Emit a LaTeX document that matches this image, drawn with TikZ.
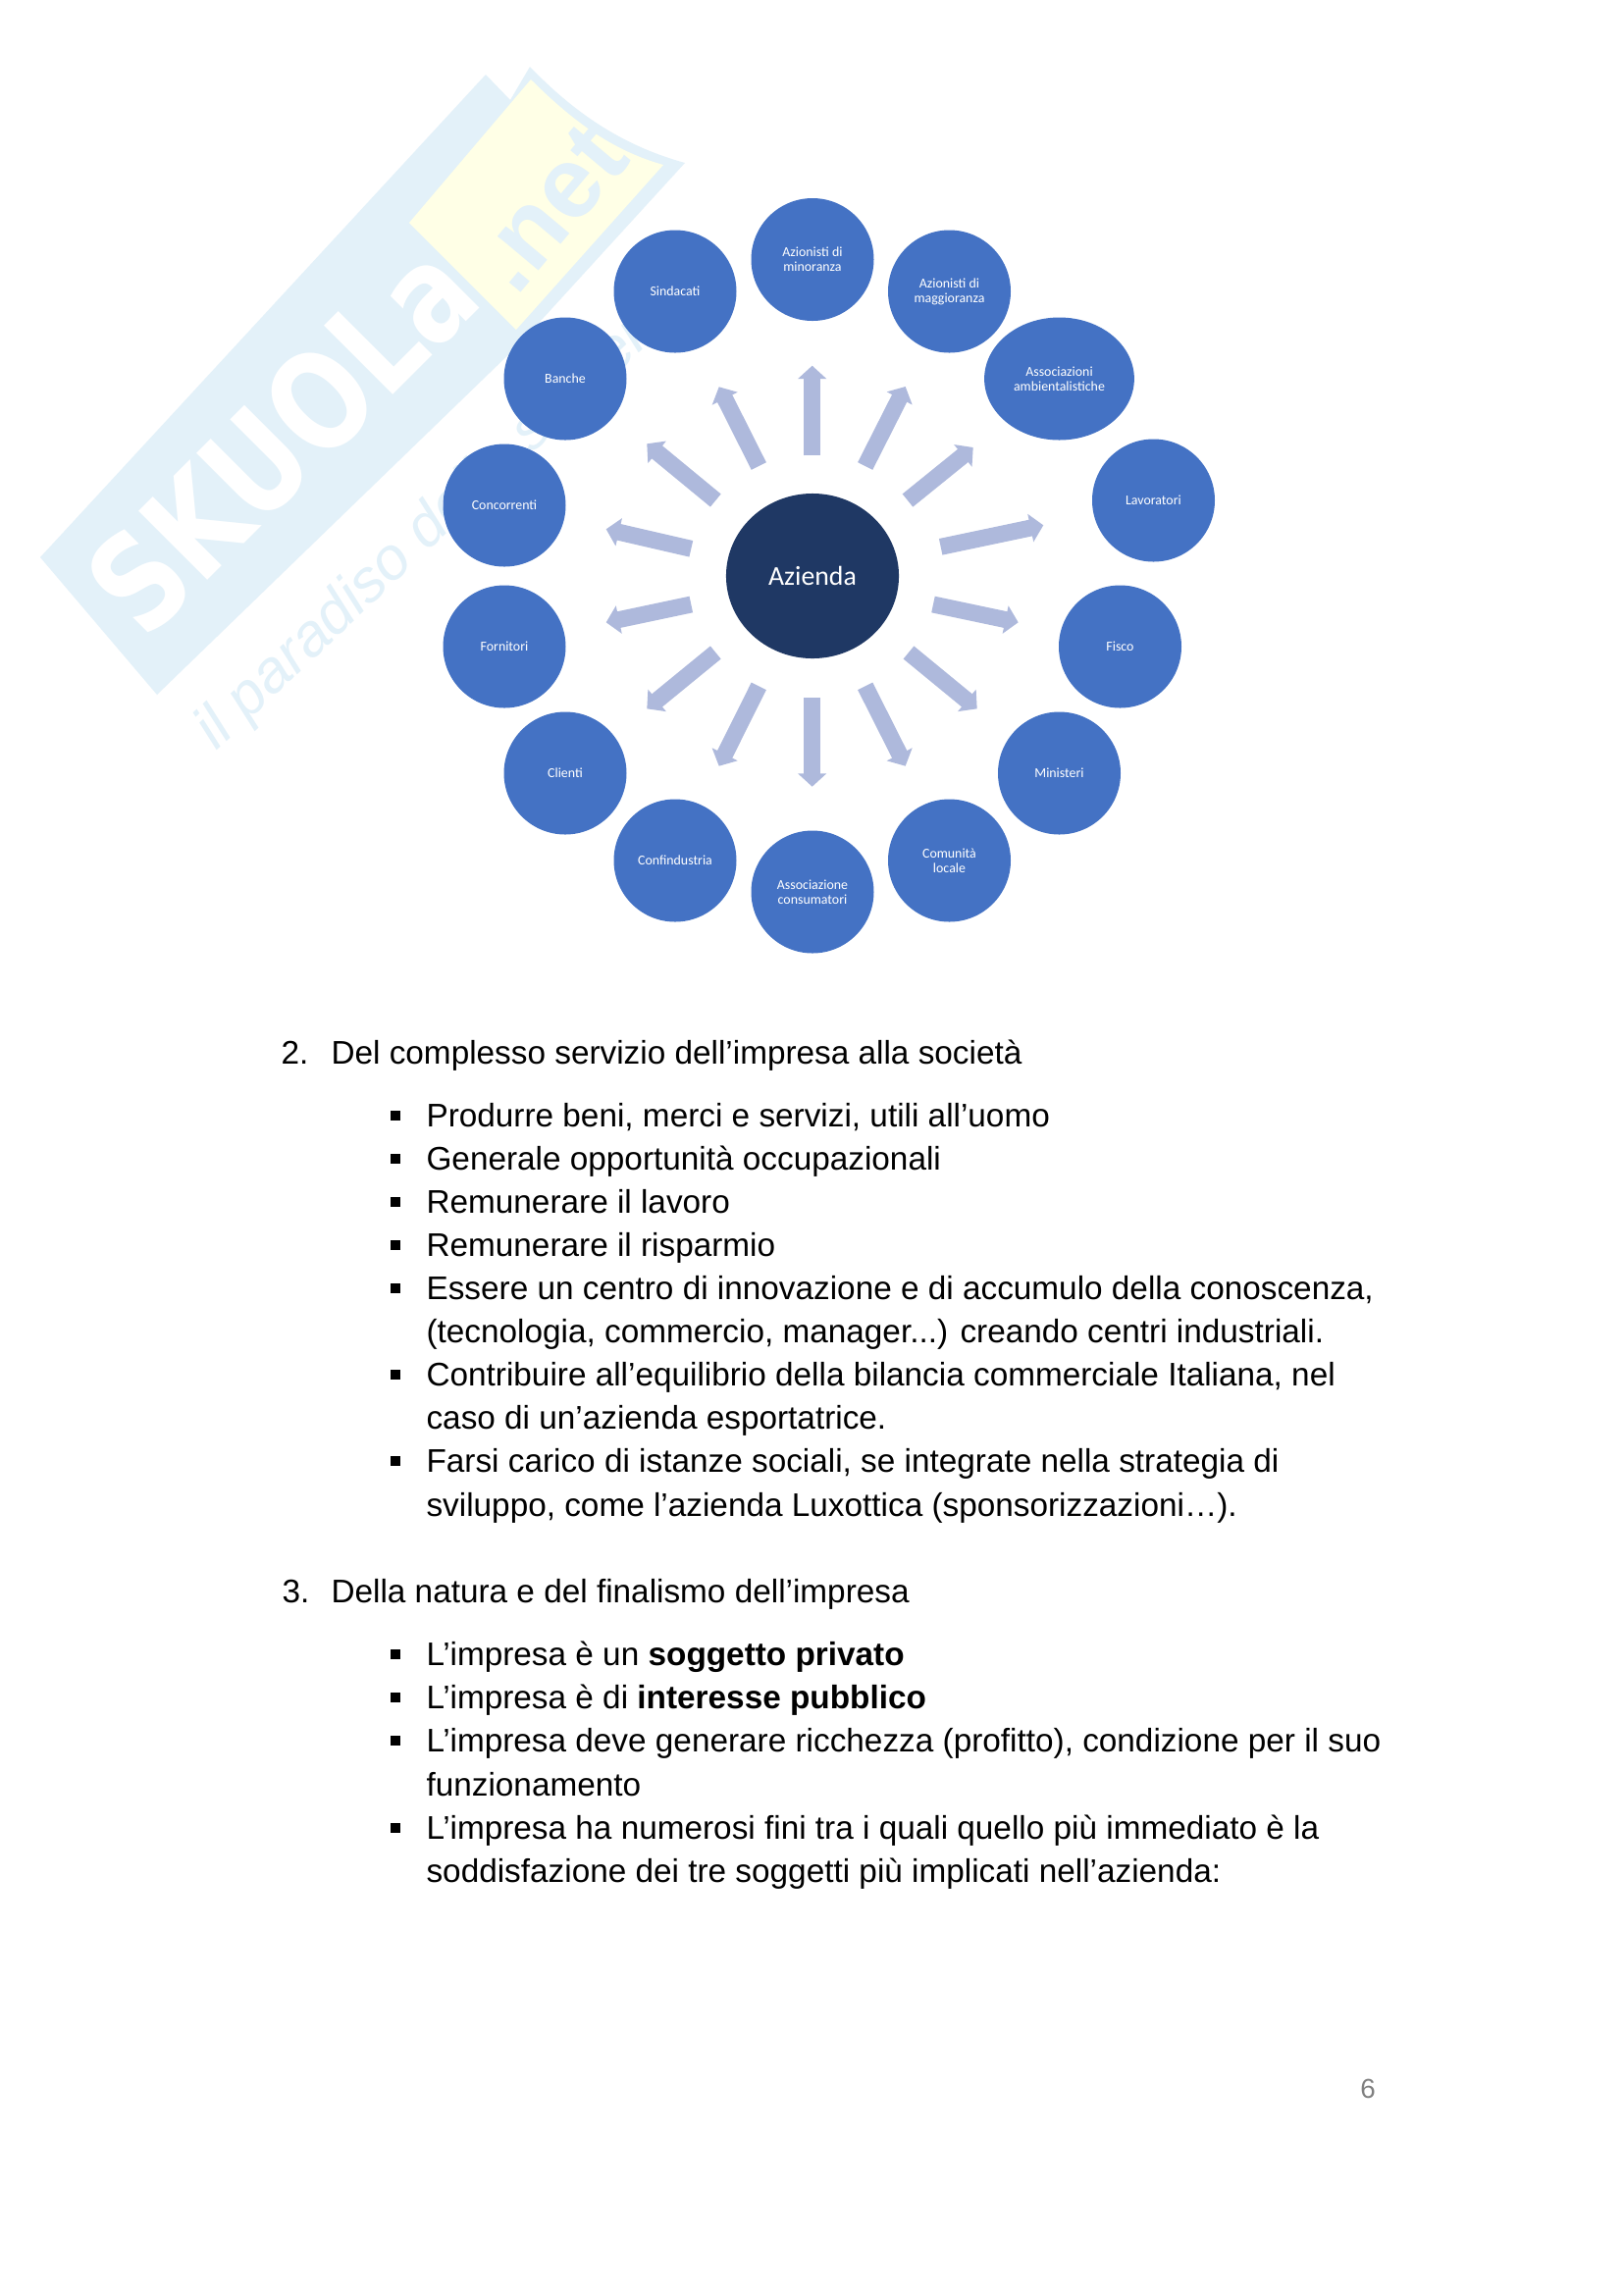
\documentclass[tikz,border=0pt]{standalone}
\usepackage{graphicx}
\usepackage{fontspec}
\setmainfont{Liberation Sans}
\newfontfamily\calibri{Carlito}
\newfontfamily\wmfont{DejaVu Sans}
\usetikzlibrary{arrows.meta,shapes.geometric}
\definecolor{wmblue}{HTML}{E3F1F9}
\definecolor{wmyellow}{HTML}{FFFFE6}
\definecolor{ringblue}{HTML}{4472C4}
\definecolor{hubblue}{HTML}{1F3864}
\definecolor{arrowblue}{HTML}{AEB9DC}
\tikzset{
  ring/.style={circle,fill=ringblue,text=white,minimum size=45pt,inner sep=0pt,align=center,
    font=\calibri\fontsize{5}{5.4}\selectfont},
  ringwide/.style={ellipse,fill=ringblue,text=white,minimum width=55pt,minimum height=45pt,inner sep=0pt,align=center,
    font=\calibri\fontsize{5}{5.4}\selectfont},
  hub/.style={ellipse,fill=hubblue,text=white,minimum width=63.4pt,minimum height=60.5pt,inner sep=0pt,
    font=\calibri\fontsize{10}{12}\selectfont},
  spoke/.style={draw=arrowblue,line width=6.1pt,-{Triangle[length=4.8pt,width=10.2pt,fill=arrowblue]}},
  body/.style={anchor=base west,inner sep=0pt,font=\fontsize{12}{14}\selectfont,text=black},
  sq/.style={fill=black,minimum size=3.3pt,inner sep=0pt,anchor=center},
}
\begin{document}
\begin{tikzpicture}[x=0.36pt,y=-0.36pt]
\useasboundingbox (0,0) rectangle (1654,2339);
\fill[white] (0,0) rectangle (1654,2339);
% watermark
\fill[wmblue] (41,568) -- (495,76) -- (520,102) -- (540,68) .. controls (590,120) and (640,150) .. (698,166) -- (530,350) -- (160,708) -- cycle;
\fill[wmyellow] (417,227) -- (541,81) .. controls (590,130) and (630,155) .. (676,168) -- (526,336) -- cycle;
\node[rotate=45,text=white,inner sep=0pt,font=\wmfont\bfseries\fontsize{49}{49}\selectfont] (wmname) at (287,446) {\scalebox{0.81}[1]{SKUOLa}};
\node[rotate=50,text=wmblue,inner sep=0pt,font=\bfseries\fontsize{37}{37}\selectfont] (wmnet) at (560,212) {.net};
\node[rotate=43.3,text=wmblue,inner sep=0pt,font=\itshape\fontsize{22}{22}\selectfont] (wmtag) at (456,522) {il paradiso dello studente};
% hub and ring
\node[hub] (hub) at (828,587) {Azienda};
\node[ring] (n1) at (828,264.5) {Azionisti di\\minoranza};
\node[ring] (n2) at (967.5,297) {Azionisti di\\maggioranza};
\node[ringwide] (n3) at (1079.5,386) {Associazioni\\ambientalistiche};
\node[ring] (n4) at (1175.5,510) {Lavoratori};
\node[ring] (n5) at (1141.5,659) {Fisco};
\node[ring] (n6) at (1079.5,788) {Ministeri};
\node[ring] (n7) at (967.5,877) {Comunità\\locale};
\node[ring] (n8) at (828,909) {Associazione\\consumatori};
\node[ring] (n9) at (688,877) {Confindustria};
\node[ring] (n10) at (576,788) {Clienti};
\node[ring] (n11) at (514,659) {Fornitori};
\node[ring] (n12) at (514,515) {Concorrenti};
\node[ring] (n13) at (576,386) {Banche};
\node[ring] (n14) at (688,297) {Sindacati};
% spokes
\coordinate (b1) at (827.7,464.3); \coordinate (t1) at (827.7,372.7);
\coordinate (b2) at (881.7,475); \coordinate (t2) at (922.7,394);
\coordinate (b3) at (925,510); \coordinate (t3) at (991.7,456);
\coordinate (b4) at (958.7,557.3); \coordinate (t4) at (1063.3,535.3);
\coordinate (b5) at (951,616); \coordinate (t5) at (1037.7,634.3);
\coordinate (b6) at (926,665); \coordinate (t6) at (995.7,722.3);
\coordinate (b7) at (881.7,699.3); \coordinate (t7) at (922.7,780.7);
\coordinate (b8) at (827.7,711); \coordinate (t8) at (827.7,801.7);
\coordinate (b9) at (773.3,699.3); \coordinate (t9) at (732.7,780.7);
\coordinate (b10) at (729.3,665); \coordinate (t10) at (659.3,722.3);
\coordinate (b11) at (704.3,616); \coordinate (t11) at (617.7,634.3);
\coordinate (b12) at (704.3,559.3); \coordinate (t12) at (617.7,539.3);
\coordinate (b13) at (729.3,510); \coordinate (t13) at (659.3,452.3);
\coordinate (b14) at (773.3,475); \coordinate (t14) at (732.7,394.3);
\foreach \i in {1,...,14} {\draw[spoke] (b\i) -- (t\i);}
% text
\node[body] (h2n) at (286,1084) {2.};
\node[body] (h2) at (337,1084) {Del complesso servizio dell’impresa alla società};
\node[body] (l1) at (434,1148) {Produrre beni, merci e servizi, utili all’uomo};
\node[body] (l2) at (434,1192) {Generale opportunità occupazionali};
\node[body] (l3) at (434,1236) {Remunerare il lavoro};
\node[body] (l4) at (434,1280) {Remunerare il risparmio};
\node[body] (l5) at (434,1324) {Essere un centro di innovazione e di accumulo della conoscenza,};
\node[body] (l5b) at (434,1368) {(tecnologia, commercio, manager...) creando centri industriali.};
\node[body] (l6) at (434,1412) {Contribuire all’equilibrio della bilancia commerciale Italiana, nel};
\node[body] (l6b) at (434,1456) {caso di un’azienda esportatrice.};
\node[body] (l7) at (434,1500) {Farsi carico di istanze sociali, se integrate nella strategia di};
\node[body] (l7b) at (434,1545) {sviluppo, come l’azienda Luxottica (sponsorizzazioni…).};
\node[body] (h3n) at (287,1633) {3.};
\node[body] (h3) at (337,1633) {Della natura e del finalismo dell’impresa};
\node[body] (m1) at (434,1697) {L’impresa è un \textbf{soggetto privato}};
\node[body] (m2) at (434,1741) {L’impresa è di \textbf{interesse pubblico}};
\node[body] (m3) at (434,1785) {L’impresa deve generare ricchezza (profitto), condizione per il suo};
\node[body] (m3b) at (434,1830) {funzionamento};
\node[body] (m4) at (434,1874) {L’impresa ha numerosi fini tra i quali quello più immediato è la};
\node[body] (m4b) at (434,1918) {soddisfazione dei tre soggetti più implicati nell’azienda:};
\foreach \n/\y in {s1/1137,s2/1181,s3/1225,s4/1269,s5/1313,s6/1401,s7/1489,s8/1686,s9/1730,s10/1774,s11/1863}
  {\node[sq] (\n) at (403,\y) {};}
\node[anchor=base,inner sep=0pt,text=black!50,font=\fontsize{10}{13}\selectfont] (pg) at (1394,2138) {6};
\end{tikzpicture}
\end{document}
